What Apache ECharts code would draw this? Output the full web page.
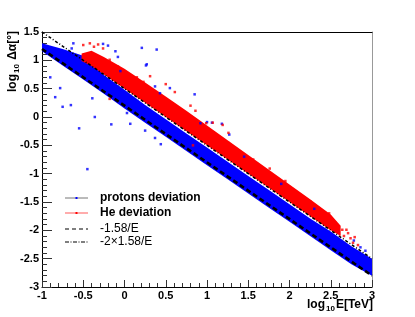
<!DOCTYPE html>
<html><head><meta charset="utf-8">
<script src="https://cdn.jsdelivr.net/npm/echarts@6/dist/echarts.min.js"></script>
<style>html,body{margin:0;padding:0;background:#fff}#c{width:415px;height:317px}</style>
</head><body><div id="c"></div>
<script>
// ---- data ----
const xTicks = [-1, -0.5, 0, 0.5, 1, 1.5, 2, 2.5, 3];
const yTicks = [-3, -2.5, -2, -1.5, -1, -0.5, 0, 0.5, 1, 1.5];

// protons deviation: dense band (edges)
const protonX    = [-1, -0.75, -0.5, -0.25, 0, 0.25, 0.5, 0.75, 1, 1.25, 1.5, 1.75, 2, 2.25, 2.5, 2.75, 3];
const protonLow  = [1.16, 0.91, 0.66, 0.41, 0.15, -0.10, -0.35, -0.60, -0.85, -1.10, -1.35, -1.60, -1.85, -2.10, -2.35, -2.60, -2.80];
const protonHigh = [1.30, 1.20, 1.08, 0.74, 0.48, 0.21, -0.04, -0.29, -0.54, -0.79, -1.04, -1.29, -1.54, -1.79, -2.02, -2.28, -2.50];
// protons deviation: isolated points
const protonOutliers = [[-0.90,0.70],[-0.84,0.35],[-0.78,0.51],[-0.75,0.18],[-0.65,0.21],[-0.55,-0.20],
  [-0.45,-0.92],[-0.39,0.33],[-0.36,0.0],[-0.16,-0.13],[0.03,0.07],[0.07,-0.12],[-0.62,1.30],[-0.64,1.21],
  [-0.26,1.29],[-0.20,1.26],[-0.11,1.16],[-0.08,1.06],[0.21,1.22],[0.39,1.19],[0.27,0.93],[0.26,0.91],
  [-0.05,0.81],[0.37,0.54],[0.43,0.42],[0.55,0.51],[0.85,0.40],[0.92,-0.11],[1.0,-0.09],[1.06,-0.10],
  [1.18,-0.12],[1.27,-0.31],[0.25,-0.24],[0.37,-0.37],[0.44,-0.48],[1.45,-0.70],[1.9,-1.18],[2.3,-1.62],
  [2.78,-2.18],[2.86,-2.30],[2.92,-2.36]];

// He deviation: dense band (edges)
const heX    = [-0.52, -0.4, -0.25, 0, 0.25, 0.5, 0.75, 1, 1.25, 1.5, 1.75, 2, 2.25, 2.5, 2.62];
const heLow  = [0.99, 0.90, 0.75, 0.50, 0.25, 0.0, -0.25, -0.50, -0.75, -1.0, -1.25, -1.50, -1.75, -2.0, -2.10];
const heHigh = [1.12, 1.17, 1.06, 0.85, 0.61, 0.36, 0.11, -0.15, -0.41, -0.67, -0.93, -1.19, -1.45, -1.72, -1.92];
// He deviation: isolated points
const heOutliers = [[-0.50,1.27],[-0.42,1.30],[-0.37,1.24],[-0.32,1.28],[-0.26,1.21],[-0.18,1.01],
  [-0.08,0.89],[0.03,0.77],[0.15,0.70],[0.23,0.62],[-0.18,0.32],[0.31,0.72],[0.50,0.58],[0.61,0.44],
  [0.80,0.20],[0.86,0.11],[0.99,-0.11],[1.07,-0.10],[1.19,-0.14],[1.26,-0.28],[1.18,-0.41],[1.26,-0.46],
  [0.83,-0.50],[1.56,-0.75],[1.76,-0.91],[1.95,-1.13],[2.13,-1.41],[2.25,-1.49],[2.35,-1.64],[2.45,-1.76],
  [2.48,-1.70],[2.55,-1.88],[2.56,-1.87],[2.64,-1.99],[2.69,-1.99],[2.71,-2.05],[2.66,-2.10],[2.74,-2.14],
  [2.79,-2.12],[2.77,-2.22],[2.83,-2.26]];

// reference lines (end points)
const line1 = [[-1, 1.2], [3, -2.8]];   // -1.58/E
const line2 = [[-1, 1.5], [3, -2.5]];   // -2x1.58/E

const legendNames = ['protons deviation', 'He deviation', '-1.58/E', '-2\u00d71.58/E'];

// ---- chart ----
const FONT = 'Liberation Sans, Arial, Helvetica, sans-serif';
const chart = echarts.init(document.getElementById('c'), null, {renderer: 'canvas'});

function band(name, xs, lo, hi, color, z) {
  return {
    type: 'custom', name: name, coordinateSystem: 'cartesian2d', z: z, silent: true, clip: true,
    data: [[xs[0], lo[0]]], encode: {x: 0, y: 1},
    renderItem: function (params, api) {
      const pts = [];
      for (let i = 0; i < xs.length; i++) pts.push(api.coord([xs[i], hi[i]]));
      for (let i = xs.length - 1; i >= 0; i--) pts.push(api.coord([xs[i], lo[i]]));
      return {type: 'polygon', shape: {points: pts}, style: {fill: color}};
    }
  };
}

const axisLabel = {color: '#000', fontFamily: FONT, fontWeight: 'bold', fontSize: 11};

chart.setOption({
  animation: false,
  backgroundColor: '#fff',
  grid: [{left: 42, right: 43, top: 32, bottom: 30, show: false}],
  xAxis: [{
    type: 'value', min: xTicks[0], max: xTicks[xTicks.length - 1], interval: 0.5,
    axisLine: {show: true, onZero: false, lineStyle: {color: '#000', width: 1}},
    axisTick: {show: true, inside: true, length: 7, lineStyle: {color: '#333'}},
    minorTick: {show: true, splitNumber: 5, length: 4, lineStyle: {color: '#333'}},
    splitLine: {show: false},
    axisLabel: Object.assign({margin: 3, formatter: v => String(v)}, axisLabel)
  }, {
    type: 'value', position: 'top', min: -1, max: 3,
    axisLine: {show: true, onZero: false, lineStyle: {color: '#000'}},
    axisTick: {show: false}, axisLabel: {show: false}, splitLine: {show: false}
  }],
  yAxis: [{
    type: 'value', min: yTicks[0], max: yTicks[yTicks.length - 1], interval: 0.5,
    axisLine: {show: true, onZero: false, lineStyle: {color: '#000', width: 1}},
    axisTick: {show: true, inside: true, length: 10, lineStyle: {color: '#333'}},
    minorTick: {show: true, splitNumber: 5, length: 5, lineStyle: {color: '#333'}},
    splitLine: {show: false},
    axisLabel: Object.assign({margin: 3, formatter: v => String(v)}, axisLabel)
  }, {
    type: 'value', position: 'right', min: -3, max: 1.5,
    axisLine: {show: true, onZero: false, lineStyle: {color: '#999'}},
    axisTick: {show: false}, axisLabel: {show: false}, splitLine: {show: false}
  }],
  series: [
    band(legendNames[0], protonX, protonLow, protonHigh, '#0000ff', 1),
    band(legendNames[1], heX, heLow, heHigh, '#ff0000', 2),
    {type: 'scatter', name: 'p out', data: protonOutliers, symbol: 'rect', symbolSize: 2.5,
      itemStyle: {color: '#0000ff'}, z: 3, silent: true},
    {type: 'scatter', name: 'He out', data: heOutliers, symbol: 'rect', symbolSize: 2.5,
      itemStyle: {color: '#ff0000'}, z: 3, silent: true},
    {type: 'line', name: legendNames[2], data: line1, showSymbol: false, z: 4, silent: true,
      lineStyle: {color: '#000', width: 2.6, type: [5, 3]}},
    {type: 'line', name: legendNames[3], data: line2, showSymbol: false, z: 4, silent: true,
      lineStyle: {color: '#000', width: 1.5, type: [3, 2, 1, 2]}}
  ],
  graphic: [
    // legend
    {type: 'line', shape: {x1: 65, y1: 198, x2: 88, y2: 198}, style: {stroke: '#777', lineWidth: 1}},
    {type: 'rect', shape: {x: 75.5, y: 197, width: 2, height: 2}, style: {fill: '#0000ff'}},
    {type: 'text', x: 100, y: 198, style: {text: legendNames[0], font: 'bold 12px ' + FONT, fill: '#000', verticalAlign: 'middle'}},
    {type: 'line', shape: {x1: 65, y1: 213, x2: 88, y2: 213}, style: {stroke: '#ff9090', lineWidth: 1.5}},
    {type: 'rect', shape: {x: 75.5, y: 212, width: 2, height: 2}, style: {fill: '#ff0000'}},
    {type: 'text', x: 100, y: 213, style: {text: legendNames[1], font: 'bold 12px ' + FONT, fill: '#000', verticalAlign: 'middle'}},
    {type: 'line', shape: {x1: 65, y1: 229, x2: 88, y2: 229}, style: {stroke: '#000', lineWidth: 1.2, lineDash: [4, 3]}},
    {type: 'text', x: 100, y: 229, style: {text: legendNames[2], font: '12px ' + FONT, fill: '#000', verticalAlign: 'middle'}},
    {type: 'line', shape: {x1: 65, y1: 242, x2: 88, y2: 242}, style: {stroke: '#000', lineWidth: 1.2, lineDash: [4, 1.5, 1, 1.5]}},
    {type: 'text', x: 100, y: 242, style: {text: legendNames[3], font: '12px ' + FONT, fill: '#000', verticalAlign: 'middle'}},
    // axis titles
    {type: 'text', x: 373, y: 305, style: {
      text: '{a|log}{s|10}{a|E[TeV]}', align: 'right', verticalAlign: 'middle',
      rich: {a: {font: 'bold 12px ' + FONT, fill: '#000'}, s: {font: 'bold 8px ' + FONT, fill: '#000', padding: [7, 1, 0, 1]}}
    }},
    {type: 'text', x: 13, y: 31, rotation: Math.PI / 2, style: {
      text: '{a|log}{s|10}{a| \u0394\u03b1[\u00b0]}', align: 'right', verticalAlign: 'middle',
      rich: {a: {font: 'bold 12px ' + FONT, fill: '#000'}, s: {font: 'bold 8px ' + FONT, fill: '#000', padding: [7, 1, 0, 1]}}
    }}
  ]
});
</script></body></html>
